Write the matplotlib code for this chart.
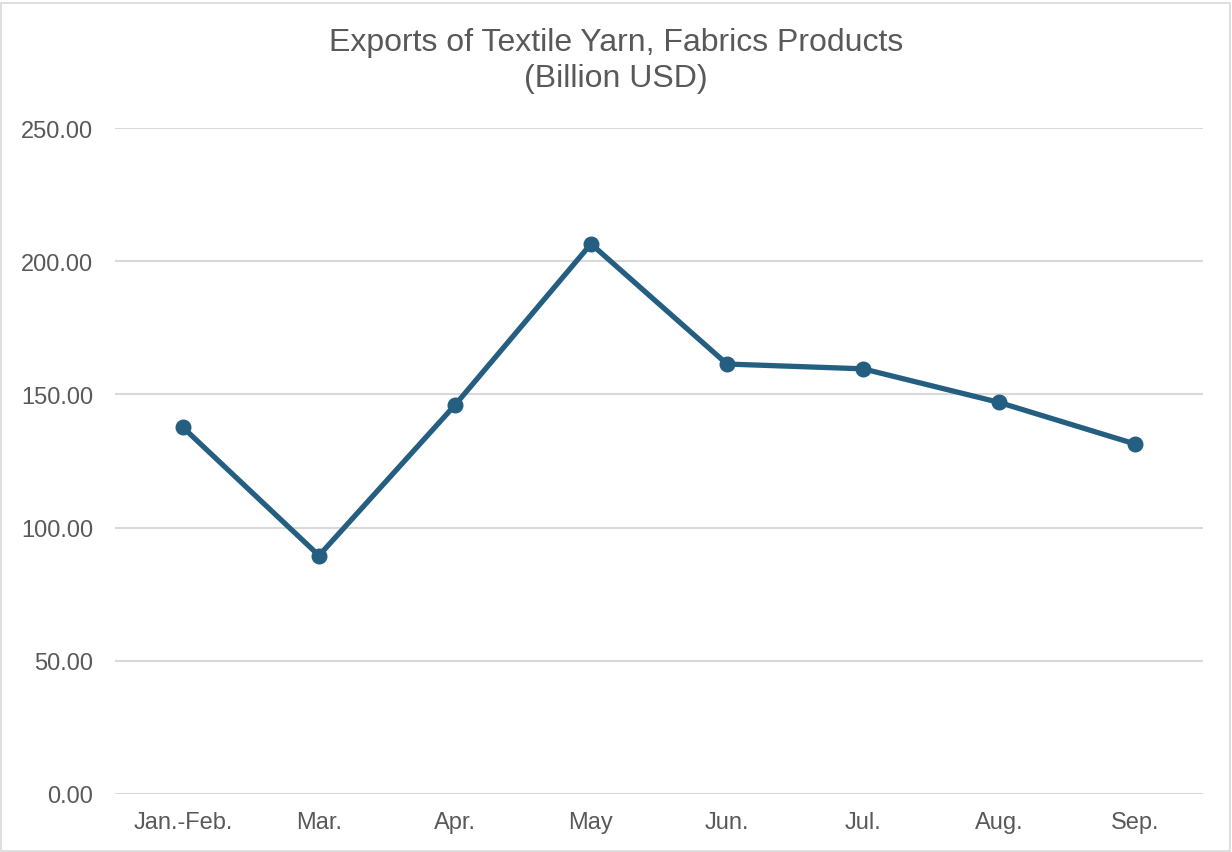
import matplotlib.pyplot as plt
from matplotlib.patches import Rectangle

plt.rcParams['font.family'] = ['Liberation Sans', 'DejaVu Sans']

months = ['Jan.-Feb.', 'Mar.', 'Apr.', 'May', 'Jun.', 'Jul.', 'Aug.', 'Sep.']
exports = [137.6, 89.5, 146.0, 206.5, 161.4, 159.6, 147.0, 131.4]
y_ticks = [0, 50, 100, 150, 200, 250]

line_color = '#245E80'
text_color = '#595959'
grid_color = '#D9D9D9'

fig = plt.figure(figsize=(12.32, 8.53), dpi=100)
ax = fig.add_axes([115 / 1232, 1 - 795 / 853, (1203 - 115) / 1232, (795 - 129) / 853])

x = list(range(len(months)))
ax.plot(x, exports, color=line_color, linewidth=3.8, marker='o', markersize=10.5,
        solid_capstyle='round', zorder=3)

ax.set_xlim(-0.5, len(months) - 0.5)
ax.set_ylim(0, 250)
ax.set_yticks(y_ticks)
ax.set_yticklabels([f'{v:.2f}' for v in y_ticks])
ax.set_xticks(x)
ax.set_xticklabels(months)

ax.grid(axis='y', color=grid_color, linewidth=1.5)
ax.set_axisbelow(True)
for s in ax.spines.values():
    s.set_visible(False)
ax.tick_params(axis='both', length=0, labelsize=17, colors=text_color)
ax.tick_params(axis='y', pad=15.5)
ax.tick_params(axis='x', pad=12)

fig.text(0.5, 1 - 61 / 853, 'Exports of Textile Yarn, Fabrics Products\n(Billion USD)',
         ha='center', va='center', fontsize=23, color=text_color, linespacing=1.22)

# light frame around the chart area
fig.patches.append(Rectangle((0.001, 0.001), 0.997, 0.994, transform=fig.transFigure,
                             fill=False, edgecolor='#D9D9D9', linewidth=1.2))

fig.savefig('out.png', dpi=100, facecolor='white')
